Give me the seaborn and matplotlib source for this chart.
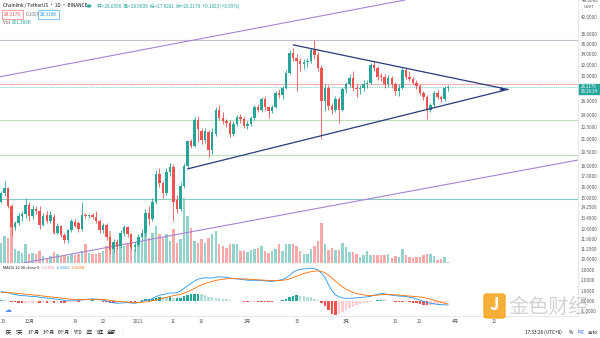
import numpy as np
import pandas as pd
import matplotlib
matplotlib.use("Agg")
import matplotlib.pyplot as plt
import matplotlib.ticker as mticker
from matplotlib.patches import FancyBboxPatch, Rectangle
import seaborn as sns

# ---------------- data ----------------
start_date = "2020-11-23"
n_days = 128
open_ = [14.7, 15.4, 15.85, 14.3, 12.7, 13.05, 13.55, 13.7, 14.4, 13.55,
         14.1, 13.9, 12.9, 13.6, 13.2, 13.5, 12.3, 12.8, 12.15, 11.8,
         12.5, 13.1, 13.0, 12.55, 13.6, 13.55, 13.62, 13.5, 13.15, 12.5,
         12.9, 12.0, 11.2, 11.7, 11.4, 12.3, 12.7, 12.2, 11.35, 11.5,
         12.0, 12.3, 13.8, 13.3, 14.7, 17.2, 16.3, 15.4, 17.4, 17.9,
         14.8, 14.1, 16.1, 18.0, 20.7, 20.2, 23.4, 22.0, 20.8, 21.8,
         19.7, 21.6, 24.8, 23.7, 23.2, 23.0, 21.6, 22.9, 23.8, 23.5,
         22.6, 22.9, 23.6, 25.1, 24.7, 26.3, 25.1, 24.6, 25.2, 27.3,
         26.9, 28.0, 30.6, 34.2, 33.3, 32.7, 32.2, 32.5, 32.7, 34.8,
         33.8, 31.4, 26.0, 28.1, 25.3, 24.8, 26.3, 24.8, 27.8, 28.6,
         29.7, 28.1, 27.8, 28.0, 28.6, 28.9, 31.9, 31.4, 29.9, 29.8,
         28.6, 29.6, 28.6, 27.5, 28.1, 31.1, 29.9, 29.5, 28.9, 28.3,
         27.2, 26.6, 24.8, 25.5, 27.3, 26.7, 26.3, 28.0356]
high = [15.6, 16.5, 16.0, 14.5, 13.2, 13.8, 13.9, 15.0, 14.7, 14.4,
        14.3, 14.3, 13.8, 13.9, 13.9, 13.7, 13.0, 12.9, 12.3, 12.6,
        13.3, 13.3, 13.2, 14.7, 13.8, 13.7, 13.8, 13.9, 13.3, 13.0,
        13.0, 12.1, 11.9, 11.9, 12.5, 12.9, 12.8, 12.3, 11.7, 12.2,
        12.6, 14.1, 14.3, 15.0, 17.6, 17.8, 16.5, 17.8, 18.3, 18.2,
        15.3, 16.4, 18.3, 20.9, 21.0, 23.8, 23.9, 22.3, 22.3, 22.1,
        22.3, 25.2, 25.4, 24.5, 23.5, 23.3, 23.2, 24.1, 24.2, 23.8,
        23.2, 23.9, 25.4, 25.6, 26.7, 26.8, 25.3, 25.5, 27.6, 27.9,
        28.4, 31.0, 34.8, 35.2, 33.9, 33.2, 33.0, 33.3, 35.2, 36.9,
        34.4, 31.9, 28.6, 28.5, 25.8, 26.8, 26.7, 28.2, 29.0, 30.4,
        30.8, 28.6, 28.5, 29.3, 29.4, 32.3, 32.6, 31.8, 30.6, 30.3,
        30.2, 30.0, 29.0, 28.6, 31.6, 31.5, 30.8, 29.8, 29.3, 28.6,
        27.5, 26.9, 25.8, 27.6, 27.7, 27.0, 28.4, 28.56]
low = [14.6, 15.2, 14.2, 12.15, 12.5, 12.9, 13.2, 13.4, 13.2, 13.3,
       13.7, 12.55, 12.8, 13.0, 13.0, 12.2, 12.2, 12.0, 11.6, 11.6,
       12.4, 12.7, 12.4, 12.45, 13.4, 13.4, 13.3, 13.0, 12.3, 12.3,
       11.8, 10.9, 11.0, 11.2, 11.3, 12.1, 12.0, 11.2, 11.1, 11.4,
       11.8, 12.1, 12.9, 13.2, 14.5, 16.0, 15.0, 15.3, 17.0, 13.2,
       13.8, 13.9, 15.9, 17.8, 19.9, 20.0, 20.6, 20.4, 20.5, 18.9,
       19.3, 21.3, 23.4, 22.8, 22.5, 21.2, 21.3, 22.6, 23.0, 22.3,
       22.2, 22.6, 23.4, 24.4, 24.4, 24.8, 23.6, 24.3, 25.0, 26.5,
       26.4, 27.8, 30.3, 32.6, 27.6, 30.9, 31.3, 31.5, 32.3, 33.0,
       30.8, 21.0, 24.6, 24.8, 24.2, 24.4, 23.0, 24.6, 27.3, 28.2,
       27.6, 26.6, 27.1, 27.6, 28.0, 28.6, 30.9, 29.3, 29.2, 28.0,
       28.2, 28.0, 26.9, 26.8, 27.8, 29.5, 29.2, 28.6, 27.9, 26.9,
       26.2, 23.5, 24.4, 25.2, 26.4, 25.9, 26.1, 27.6281]
close = [15.4, 15.85, 14.3, 12.7, 13.05, 13.55, 13.7, 14.4, 13.55, 14.1,
         13.9, 12.9, 13.55, 13.2, 13.6, 12.3, 12.8, 12.15, 11.85, 12.5,
         13.15, 12.8, 12.55, 13.6, 13.55, 13.62, 13.5, 13.15, 12.5, 12.9,
         12.0, 11.15, 11.7, 11.35, 12.3, 12.7, 12.2, 11.35, 11.5, 12.0,
         12.3, 13.8, 13.3, 14.7, 17.2, 16.3, 15.4, 17.4, 17.9, 14.7,
         14.1, 16.1, 18.0, 20.7, 20.2, 23.4, 22.2, 20.8, 21.9, 19.7,
         21.8, 24.8, 23.7, 23.2, 23.0, 21.6, 22.9, 23.8, 23.5, 22.6,
         22.9, 23.6, 25.1, 24.7, 26.3, 25.1, 24.6, 25.2, 27.3, 26.9,
         28.0, 30.6, 34.2, 33.3, 32.7, 32.2, 32.5, 32.7, 34.8, 33.8,
         31.4, 26.0, 28.1, 25.3, 24.8, 26.3, 24.8, 27.8, 28.6, 29.7,
         28.1, 27.8, 28.0, 28.6, 28.9, 31.9, 31.4, 29.9, 29.8, 28.6,
         29.6, 28.6, 27.5, 28.1, 31.1, 29.9, 29.5, 28.9, 28.3, 27.2,
         26.6, 24.8, 25.5, 27.3, 26.7, 26.3, 28.0, 28.2179]
volume_m = [13.0, 17.6, 16.3, 31.9, 9.1, 7.8, 6.5, 12.4, 5.9, 6.5,
            5.9, 7.8, 4.6, 3.3, 4.6, 7.2, 5.9, 4.6, 5.2, 4.6,
            5.9, 5.2, 5.9, 7.8, 12.4, 6.5, 5.9, 5.9, 6.5, 7.8,
            11.1, 20.8, 12.4, 9.8, 13.0, 11.1, 13.0, 11.1, 9.1, 12.4,
            14.3, 20.8, 16.3, 19.5, 24.1, 18.9, 16.3, 18.9, 14.3, 22.1,
            13.0, 15.6, 42.3, 30.6, 22.8, 14.3, 13.0, 15.6, 13.0, 16.3,
            18.9, 20.8, 12.4, 11.1, 9.8, 12.4, 12.4, 12.4, 7.8, 7.8,
            7.2, 8.5, 9.1, 9.8, 11.1, 7.8, 6.5, 7.8, 9.1, 12.4,
            7.8, 12.4, 12.4, 12.4, 11.1, 7.8, 5.9, 5.9, 9.1, 11.1,
            14.3, 26.0, 12.4, 8.5, 9.8, 8.5, 8.5, 13.0, 10.4, 7.2,
            7.2, 5.9, 3.9, 5.2, 7.8, 5.2, 5.2, 5.2, 5.2, 5.2,
            5.9, 3.3, 4.6, 3.9, 9.1, 5.2, 3.6, 3.3, 3.9, 3.9,
            5.2, 5.9, 5.9, 4.6, 2.0, 2.6, 3.9, 0.85]
macd = [0.90, 0.88, 0.82, 0.70, 0.62, 0.56, 0.52, 0.50, 0.46, 0.44,
        0.42, 0.36, 0.32, 0.28, 0.26, 0.20, 0.18, 0.12, 0.06, 0.06,
        0.08, 0.08, 0.06, 0.10, 0.14, 0.18, 0.20, 0.18, 0.12, 0.08,
        0.00, -0.12, -0.18, -0.22, -0.20, -0.18, -0.16, -0.20, -0.22, -0.16,
        -0.04, 0.06, 0.12, 0.22, 0.42, 0.56, 0.62, 0.70, 0.78, 0.76,
        0.82, 0.98, 1.22, 1.48, 1.70, 1.95, 2.12, 2.20, 2.26, 2.22,
        2.24, 2.32, 2.34, 2.32, 2.30, 2.24, 2.18, 2.14, 2.12, 2.06,
        2.02, 2.00, 2.02, 2.00, 1.98, 1.96, 1.92, 1.90, 1.96, 2.02,
        2.10, 2.24, 2.50, 2.80, 2.98, 3.08, 3.12, 3.14, 3.18, 3.14,
        3.02, 2.70, 2.30, 1.60, 1.00, 0.60, 0.40, 0.30, 0.26, 0.26,
        0.28, 0.30, 0.34, 0.36, 0.40, 0.46, 0.56, 0.66, 0.72, 0.70,
        0.62, 0.56, 0.52, 0.48, 0.46, 0.44, 0.38, 0.30, 0.20, 0.08,
        -0.04, -0.14, -0.22, -0.28, -0.33, -0.36, -0.38, -0.3862]
signal = [0.80, 0.81, 0.81, 0.79, 0.76, 0.72, 0.69, 0.66, 0.62, 0.59,
          0.56, 0.52, 0.48, 0.44, 0.40, 0.36, 0.32, 0.28, 0.24, 0.20,
          0.17, 0.15, 0.13, 0.12, 0.13, 0.14, 0.15, 0.16, 0.15, 0.14,
          0.11, 0.06, 0.01, -0.04, -0.07, -0.09, -0.11, -0.13, -0.15, -0.15,
          -0.13, -0.09, -0.05, 0.01, 0.09, 0.18, 0.27, 0.36, 0.44, 0.51,
          0.57, 0.65, 0.76, 0.90, 1.06, 1.24, 1.41, 1.57, 1.71, 1.81,
          1.90, 1.99, 2.06, 2.11, 2.15, 2.17, 2.17, 2.17, 2.16, 2.14,
          2.12, 2.09, 2.08, 2.06, 2.04, 2.02, 2.00, 1.98, 1.98, 1.99,
          2.01, 2.06, 2.15, 2.28, 2.42, 2.55, 2.66, 2.76, 2.84, 2.90,
          2.92, 2.88, 2.74, 2.51, 2.23, 1.92, 1.63, 1.37, 1.15, 0.97,
          0.83, 0.72, 0.65, 0.59, 0.55, 0.53, 0.54, 0.56, 0.60, 0.62,
          0.62, 0.61, 0.60, 0.57, 0.55, 0.50, 0.48, 0.46, 0.43, 0.39,
          0.34, 0.26, 0.17, 0.08, -0.03, -0.13, -0.22, -0.3058]

first_tick_label = "23"
tick_dates = ["2020-12-01", "2020-12-14", "2020-12-22", "2021-01-01",
              "2021-01-11", "2021-01-19", "2021-02-01", "2021-02-15", "2021-03-01",
              "2021-03-15", "2021-03-22", "2021-04-01", "2021-04-12"]
tick_labels = ["12月", "14", "22", "2021", "11", "19", "2月", "15", "3月",
               "15", "22", "4月", "12"]
price_ticks = [42.0, 38.0, 36.0, 34.0, 32.0, 30.0, 26.0, 24.0, 22.5, 21.0,
               19.5, 18.0, 17.0, 16.0, 15.0, 14.25, 13.4, 12.6, 11.9, 11.25, 10.6]
top_price_label = "48.0000"
macd_ticks = [3.0, 2.0, 1.0, 0.0, -1.0]

level_prices = [36.9, 28.6, 23.4, 19.1, 14.9]
channel_dates = ["2020-11-23", "2021-03-30"]
channel_upper = [29.9, 48.4]
channel_lower = [10.13, 16.23]
tri_upper_dates = ["2021-02-14", "2021-04-16"]
tri_upper_prices = [35.8, 27.8]
tri_lower_dates = ["2021-01-15", "2021-04-16"]
tri_lower_prices = [17.7, 27.8]

last_price = 28.2179

# ---------------- setup ----------------
sns.set_theme(style="white")
plt.rcParams["font.family"] = ["Noto Sans CJK SC", "DejaVu Sans"]
plt.rcParams["axes.unicode_minus"] = False

W, H = 600, 338
fig = plt.figure(figsize=(W / 100, H / 100), dpi=100)
fig.patch.set_facecolor("white")


def rect(x0, y0, x1, y1):
    return [x0 / W, 1 - y1 / H, (x1 - x0) / W, (y1 - y0) / H]


def ftext(x, y, s, **kw):
    kw.setdefault("va", "center")
    kw.setdefault("ha", "left")
    return fig.text(x / W, 1 - y / H, s, **kw)


dates = pd.date_range(start_date, periods=n_days, freq="D")
t0 = dates[0]


def pos(d):
    return (pd.Timestamp(d) - t0).days


x = np.array([pos(d) for d in dates], dtype=float)
o = np.array(open_); h = np.array(high); l = np.array(low); c = np.array(close)
up = c >= o
UP, DN = "#26a69a", "#ef5350"
ccol = np.where(up, UP, DN)
vcol = np.where(up, "#93d3cd", "#f8a9a7")

XL = (-0.28, 163.9)
GRID = "#e0e3eb"
LBL = "#555555"

# volume axis (behind)
ax_v = fig.add_axes(rect(0, 0, 578, 263))
ax_v.bar(x, volume_m, width=0.7, color=vcol, linewidth=0)
ax_v.set_xlim(*XL)
ax_v.set_ylim(0, 171)
ax_v.axis("off")

# price axis
ax = fig.add_axes(rect(0, 0, 578, 263))
ax.set_facecolor("none")
ax.set_yscale("log")
ax.set_xlim(*XL)
ax.set_ylim(10.37, 46.2)

for lv, col in zip(level_prices, ["#c7bfd0", "#f6b3b3", "#b9dfbb", "#b9dfbb", "#86cbc4"]):
    ax.axhline(lv, color=col, lw=0.8, zorder=1)
ax.axhline(last_price, color=UP, lw=0.5, ls=(0, (1, 1.5)), zorder=1)

chx = [pos(d) for d in channel_dates]
ax.axline((chx[0], channel_upper[0]), (chx[1], channel_upper[1]), color="#a784d4", lw=0.8, zorder=1)
ax.axline((chx[0], channel_lower[0]), (chx[1], channel_lower[1]), color="#a784d4", lw=0.8, zorder=1)

ax.vlines(x, l, h, colors=ccol, lw=0.6, zorder=3)
body_b = np.minimum(o, c)
body_h = np.maximum(np.abs(c - o), body_b * 0.004)
ax.bar(x, body_h, bottom=body_b, width=0.7, color=ccol, linewidth=0, zorder=4)

NAVY = "#283a7c"
ax.plot([pos(d) for d in tri_upper_dates], tri_upper_prices, color=NAVY, lw=0.9, zorder=5)
ax.plot([pos(d) for d in tri_lower_dates], tri_lower_prices, color=NAVY, lw=0.9, zorder=5)
apx = pos(tri_upper_dates[1])
ax.annotate("", xy=(apx, tri_upper_prices[1]), xytext=(apx - 3, tri_upper_prices[1]),
            arrowprops=dict(arrowstyle="->", color=NAVY, lw=0.8, mutation_scale=5), zorder=6)

ax.yaxis.tick_right()
ax.yaxis.set_major_locator(mticker.FixedLocator(price_ticks))
ax.yaxis.set_major_formatter(mticker.FuncFormatter(lambda v, p: f"{v:.4f}"))
ax.yaxis.set_minor_locator(mticker.NullLocator())
ax.yaxis.set_minor_formatter(mticker.NullFormatter())
ax.tick_params(axis="y", length=0, pad=2, labelsize=3.3, labelcolor=LBL)
ax.set_xticks([])
for s in ["top", "left"]:
    ax.spines[s].set_visible(False)
ax.spines["right"].set_color(GRID)
ax.spines["right"].set_linewidth(0.6)
ax.spines["bottom"].set_color("#d1d4dc")
ax.spines["bottom"].set_linewidth(0.6)

# MACD axis
ax_m = fig.add_axes(rect(0, 263, 578, 316))
hist = np.array(macd) - np.array(signal)
prev = np.concatenate([[hist[0]], hist[:-1]])
hcol = np.where(hist >= 0,
                np.where(hist >= prev, "#26a69a", "#b2dfdb"),
                np.where(hist <= prev, "#ef5350", "#ffcdd2"))
ax_m.bar(x, hist, width=0.7, color=hcol, linewidth=0)
sns.lineplot(x=x, y=np.array(macd), ax=ax_m, color="#2196f3", lw=0.6)
sns.lineplot(x=x, y=np.array(signal), ax=ax_m, color="#ff6d00", lw=0.6)
ax_m.set_xlim(*XL)
ax_m.set_ylim(-1.46, 3.69)
ax_m.yaxis.tick_right()
ax_m.set_yticks(macd_ticks)
ax_m.yaxis.set_major_formatter(mticker.FuncFormatter(lambda v, p: f"{v:.4f}"))
ax_m.tick_params(axis="y", length=0, pad=2, labelsize=3.3, labelcolor=LBL)
ax_m.set_xticks([pos(d) for d in tick_dates])
ax_m.set_xticklabels(tick_labels)
ax_m.tick_params(axis="x", length=0, pad=2.2, labelsize=3.3, labelcolor=LBL)
ax_m.set_xlabel(""); ax_m.set_ylabel("")
ax_m.spines["left"].set_visible(False)
ax_m.spines["top"].set_visible(False)
for s in ["right", "bottom"]:
    ax_m.spines[s].set_color(GRID)
    ax_m.spines[s].set_linewidth(0.6)
ftext(0.5, 321.5, first_tick_label, fontsize=3.3, color=LBL)

# ---------------- overlay texts ----------------
FS = 3.4
ftext(3, 6, "Chainlink / TetherUS · 1D · BINANCE", fontsize=FS, color="#131722")
fig.patches.append(plt.Circle((89 / W, 1 - 6 / H), 1.6 / W, transform=fig.transFigure,
                              color=UP, figure=fig))
ftext(97, 6, "开=28.0356  高=28.5600  低=27.6281  收=28.2179  +0.1823 (+0.65%)",
      fontsize=FS, color=UP)
ftext(4, 14.5, "28.2179", fontsize=FS, color=DN,
      bbox=dict(boxstyle="square,pad=0.35", fc="white", ec=DN, lw=0.4))
ftext(26, 14.5, "0.1009", fontsize=FS, color="#787b86")
ftext(40, 14.5, "28.3188", fontsize=FS, color="#2196f3",
      bbox=dict(boxstyle="square,pad=0.35", fc="white", ec="#2196f3", lw=0.4))
ftext(3, 23, "Vol", fontsize=FS, color=LBL)
ftext(12, 23, "851.383K", fontsize=FS, color=UP)

ftext(3, 268, "MACD 12 26 close 9", fontsize=3.0, color="#131722")
ftext(41, 268, "-0.0804", fontsize=3.0, color="#f48fb1")
ftext(56, 268, "-0.3862", fontsize=3.0, color="#2196f3")
ftext(71, 268, "-0.3058", fontsize=3.0, color="#ff6d00")
ftext(5, 310, "☁", fontsize=5, color="#5b8def", family=["DejaVu Sans"])

ftext(582, 1.0, top_price_label, fontsize=3.3, color=LBL)
ftext(584, 6.5, "USDT", fontsize=3.0, color=LBL)

# last price label on the axis
fig.patches.append(Rectangle((579 / W, 1 - 94 / H), 21 / W, 10 / H, transform=fig.transFigure,
                             color=UP, figure=fig))
ftext(581, 86.5, f"{last_price:.4f}", fontsize=3.1, color="white")
ftext(581, 91.2, "06:26:34", fontsize=3.1, color="white")

# toolbar
for xx, s in zip([5, 16, 28, 43, 58, 73, 86, 97, 107],
                 ["1天", "5天", "1个月", "3个月", "6个月", "YTD", "1年", "5年", "全部"]):
    ftext(xx, 332, s, fontsize=3.4, color="#131722")
ftext(121, 332, "|", fontsize=3.4, color="#d1d4dc")
ftext(525, 332, "17:33:26 (UTC+8)", fontsize=3.4, color="#131722")
ftext(569, 332, "%", fontsize=3.4, color="#131722")
ftext(578, 332, "log", fontsize=3.4, color="#2962ff")
ftext(588, 332, "auto", fontsize=3.4, color="#131722")

# watermark
fig.patches.append(FancyBboxPatch((484 / W, 1 - 318 / H), 21 / W, 24 / H,
                                  boxstyle="round,pad=0,rounding_size=0.006",
                                  transform=fig.transFigure, color="#f5a623", alpha=0.9, figure=fig))
ftext(494.5, 305, "J", fontsize=12, color="white", ha="center", weight="bold")
ftext(508, 307, "金色财经", fontsize=14.5, color="#b0b0b0", alpha=0.55)

fig.savefig("out.png", dpi=100, facecolor="white")
